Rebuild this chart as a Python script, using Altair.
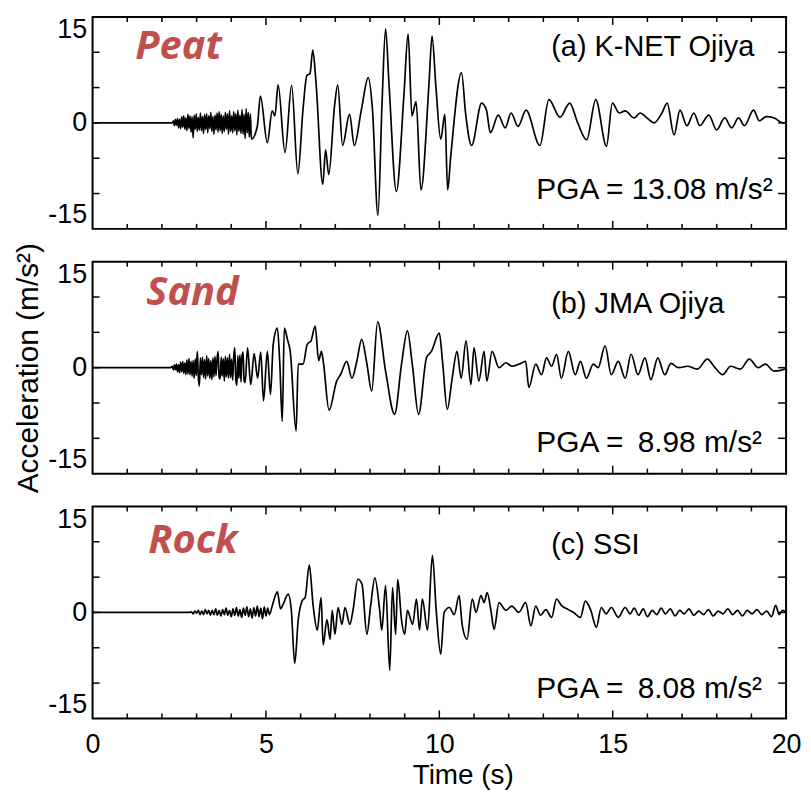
import altair as alt
import pandas as pd

# ---------------- data ----------------
# (a) K-NET Ojiya (Peat)
t_peat = [0, 2.30, 2.33, 2.36, 2.39, 2.42, 2.45, 2.48, 2.51, 2.54, 2.57, 2.60, 2.63, 2.66, 2.69,
          2.72, 2.75, 2.78, 2.81, 2.84, 2.87, 2.90, 2.93, 2.96, 2.99, 3.02, 3.05, 3.08, 3.11,
          3.14, 3.17, 3.20, 3.23, 3.26, 3.29, 3.32, 3.35, 3.38, 3.41, 3.44, 3.47, 3.50, 3.53,
          3.56, 3.59, 3.62, 3.65, 3.68, 3.71, 3.74, 3.77, 3.80, 3.83, 3.86, 3.89, 3.92, 3.95,
          3.98, 4.01, 4.04, 4.07, 4.10, 4.13, 4.16, 4.19, 4.22, 4.25, 4.28, 4.31, 4.34, 4.37,
          4.40, 4.43, 4.46, 4.49, 4.52, 4.55, 4.58,
          4.75, 4.84, 5.04, 5.18, 5.26, 5.35, 5.55, 5.74, 5.92, 6.07, 6.18, 6.27, 6.35, 6.44,
          6.64, 6.72, 6.81, 6.98, 7.07, 7.21, 7.41, 7.55, 7.75, 7.95, 8.07, 8.23, 8.35, 8.45,
          8.55, 8.76, 8.98, 9.10, 9.21, 9.33, 9.47, 9.70, 9.79, 9.90, 10.04, 10.16, 10.24,
          10.33, 10.64, 10.76, 10.93, 11.22, 11.36, 11.47, 11.70, 11.90, 12.07, 12.27, 12.50,
          12.90, 13.16, 13.48, 13.76, 13.99, 14.25, 14.51, 14.82, 14.99, 15.19, 15.36, 15.62,
          15.79, 15.99, 16.19, 16.42, 16.57, 16.77, 16.94, 17.14, 17.34, 17.51, 17.77, 18.00,
          18.23, 18.43, 18.63, 18.80, 19.06, 19.23, 19.43, 19.66, 19.91, 20.0]
a_peat = [0, 0, 0.3, -0.4, 0.5, -0.3, 0.6, -0.7, 0.5, -0.8, 0.9, -0.6, 1.0, -0.9, 0.7,
          -1.1, 1.2, -0.8, 1.0, -1.3, 0.9, -2.1, 1.1, -0.9, 1.3, -1.2, 0.8, -1.0, 1.4,
          -1.1, 0.9, -1.5, 1.2, -0.9, 1.3, -1.4, 1.0, -0.8, 1.5, -1.2, 0.9, -1.6, 1.1,
          -1.0, 1.4, -1.3, 1.6, -1.1, 1.2, -1.5, 1.0, -1.2, 1.5, -0.9, 1.3, -1.6, 1.7,
          -1.2, 1.0, -1.4, 1.6, -1.1, 1.3, -1.7, 1.8, -1.2, 1.1, -1.5, 1.9, -1.6, 1.2,
          -2.2, 2.0, -1.4, 1.5, -2.0, 1.3, -2.3,
          -0.5, 3.8, -2.8, 1.7, 1.0, 5.4, -4.2, 5.3, -7.2, 2.0, 6.7, 7.0, 10.3, 6.0,
          -8.7, -3.8, -7.3, 2.5, 5.4, -3.2, 1.2, -3.2, 1.8, 6.4, 2.0, -13.08, 3.1, 13.3,
          5.4, -9.7, 4.0, 12.6, 1.0, 3.0, -9.5, 5.4, 12.3, 5.2, -2.3, 1.2, -9.5,
          -4.7, 7.1, 1.2, -3.2, 2.8, 1.8, -1.4, 1.1, -0.7, 1.4, -0.5, 1.8,
          -3.2, 3.3, 0.8, 2.8, 0.0, -2.4, 3.3, -3.3, 2.8, 1.4, 1.7, 0.7,
          1.4, 0.7, 0.0, 1.4, 2.8, -1.7, 1.8, -0.4, 1.4, -0.4, 1.1, -1.0,
          0.7, -0.7, 0.7, -0.4, 1.8, 0.3, 0.9, 0.7, 0.0, 0.1]

# (b) JMA Ojiya (Sand)
t_sand = [0, 2.25, 2.30, 2.33, 2.36, 2.39, 2.42, 2.45, 2.48, 2.51, 2.54, 2.57, 2.60, 2.63,
          2.66, 2.69, 2.72, 2.75, 2.78, 2.81, 2.84, 2.87, 2.90, 2.93, 2.96, 2.99, 3.02, 3.05,
          3.08, 3.11, 3.14, 3.17, 3.20, 3.23, 3.26, 3.29, 3.32, 3.35, 3.38, 3.41, 3.44, 3.47,
          3.50, 3.53, 3.56, 3.59, 3.62, 3.65, 3.68, 3.71, 3.74, 3.77, 3.80, 3.83, 3.86, 3.89,
          3.92, 3.95, 3.98, 4.01, 4.04, 4.07, 4.10, 4.13, 4.16, 4.19, 4.22, 4.25, 4.28, 4.31,
          4.34, 4.37, 4.40,
          4.47, 4.56, 4.66, 4.76, 4.85, 4.93, 5.04, 5.13, 5.21, 5.33, 5.40, 5.47, 5.53, 5.62,
          5.70, 5.87, 5.93, 6.07, 6.19, 6.30, 6.42, 6.52, 6.60, 6.65, 6.82, 7.04, 7.15, 7.33,
          7.48, 7.62, 7.76, 7.90, 8.05, 8.22, 8.45, 8.71, 8.91, 9.08, 9.22, 9.40, 9.63, 9.77,
          10.00, 10.09, 10.23, 10.37, 10.51, 10.63, 10.77, 10.91, 11.00, 11.14, 11.29, 11.37,
          11.52, 11.72, 11.92, 12.10, 12.30, 12.49, 12.58, 12.78, 12.95, 13.09, 13.24, 13.38,
          13.52, 13.72, 13.92, 14.07, 14.24, 14.44, 14.58, 14.78, 14.96, 15.16, 15.36, 15.53,
          15.73, 15.93, 16.10, 16.30, 16.50, 16.68, 16.90, 17.16, 17.44, 17.73, 17.95, 18.17,
          18.40, 18.68, 18.94, 19.20, 19.40, 19.66, 19.97, 20.0]
a_sand = [0, 0, 0.2, -0.3, 0.4, -0.3, 0.5, -0.6, 0.4, -0.7, 0.8, -0.6, 0.9, -0.8,
          0.7, -1.0, 1.1, -0.9, 1.3, -1.0, 0.9, -1.2, 1.0, -1.5, 1.2, -1.1, 2.3, -1.3,
          -2.6, 1.4, -1.0, 1.5, -1.4, 1.1, -1.6, 1.7, -1.2, 1.3, -1.5, 1.0, -1.7, 1.4,
          -1.3, 1.6, -1.1, 1.2, 2.3, -1.4, -1.6, 1.5, -1.2, 1.3, -1.9, 1.6, -1.3, 1.4,
          -1.5, 1.9, -1.4, 1.2, -1.8, 1.5, 2.8, -1.6, -2.5, 1.7, -1.5, 1.8, -2.0, 1.6,
          2.2, -1.8, -2.1,
          2.8, -2.4, 2.0, -1.5, 2.2, -4.7, 2.3, -3.8, 3.3, 5.6, 0.5, -7.6, 5.6, 4.0,
          2.3, -8.98, 0.5, 0.5, 3.3, 3.8, 5.9, 1.0, 2.3, 1.0, -6.0, -1.9, -1.0, 0.9,
          -1.5, 0.9, 4.0, 0.9, -3.3, 6.5, -0.5, -6.6, 0.5, 5.2, 0.5, -6.6, 1.4, 2.3,
          4.9, 1.0, -5.9, -1.5, 2.3, -1.5, 3.8, -2.4, 2.8, -1.9, 2.3, -1.9,
          2.3, 0.0, 0.7, 0.2, 0.5, 0.9, -2.8, 0.5, -1.0, 1.4, 0.2, 1.9,
          -1.5, 2.3, -1.0, 0.9, -1.5, 0.5, 0.0, 3.1, -1.0, 0.9, -1.5, 1.9,
          -1.0, 1.4, -1.7, 1.4, -1.0, 0.6, 0.0, 0.2, -0.2, 1.2, 0.0, -1.0,
          0.2, -0.2, 1.2, 0.0, 0.5, -0.5, -0.2, -0.1]

# (c) SSI (Rock)
t_rock = [0, 2.80, 2.85, 2.90, 2.95, 3.00, 3.05, 3.10, 3.15, 3.20, 3.25, 3.30, 3.35, 3.40,
          3.45, 3.50, 3.55, 3.60, 3.65, 3.70, 3.75, 3.80, 3.85, 3.90, 3.95, 4.00, 4.05, 4.10,
          4.15, 4.20, 4.25, 4.30, 4.35, 4.40, 4.45, 4.50, 4.55, 4.60, 4.65, 4.70, 4.75, 4.80,
          4.85, 4.90, 4.95, 5.00, 5.05, 5.10,
          5.19, 5.33, 5.42, 5.50, 5.64, 5.73, 5.83, 5.93, 6.05, 6.13, 6.25, 6.36, 6.48, 6.59,
          6.65, 6.76, 6.85, 6.91, 6.99, 7.08, 7.19, 7.28, 7.42, 7.51, 7.65, 7.77, 7.91, 8.02,
          8.14, 8.28, 8.34, 8.45, 8.57, 8.65, 8.74, 8.80, 8.91, 9.00, 9.08, 9.23, 9.34, 9.43,
          9.51, 9.66, 9.80, 9.91, 10.04, 10.14, 10.29, 10.43, 10.57, 10.66, 10.80, 10.95,
          11.06, 11.20, 11.29, 11.38, 11.49, 11.58, 11.72, 11.92, 12.09, 12.29, 12.49, 12.64,
          12.78, 12.92, 13.07, 13.24, 13.38, 13.52, 13.72, 13.87, 14.07, 14.21, 14.36, 14.53,
          14.67, 14.81, 14.96, 15.16, 15.36, 15.50, 15.62, 15.75, 15.88, 16.00, 16.14, 16.27,
          16.40, 16.52, 16.66, 16.80, 16.93, 17.06, 17.20, 17.34, 17.48, 17.62, 17.76, 17.90,
          18.04, 18.18, 18.32, 18.46, 18.60, 18.74, 18.88, 19.02, 19.16, 19.30, 19.44, 19.58,
          19.70, 19.80, 19.90, 20.0]
a_rock = [0, 0, 0.1, -0.2, 0.2, -0.1, 0.3, -0.3, 0.2, -0.3, 0.4, -0.2, 0.3, -0.4,
          0.3, -0.3, 0.5, -0.4, 0.3, -0.5, 0.4, -0.3, 0.6, -0.4, 0.3, -0.6, 0.5, -0.4,
          0.7, -0.5, 0.4, -0.7, 0.6, -0.4, 0.8, -0.6, 0.5, -0.8, 0.7, -0.5, 0.9, -0.6,
          0.6, -0.9, 0.8, -0.5, 0.6, -0.3,
          1.1, 2.9, 0.5, 1.2, 2.6, 0.4, -7.2, -1.1, 1.7, 2.1, 6.7, 1.0, -2.5, 2.1,
          -4.6, -1.0, -3.8, 0.3, -3.1, 0.7, -1.7, 0.7, -1.7, 0.3, 4.7, 4.0, -3.1, 1.0,
          4.9, 0.3, -2.5, 3.8, -8.2, 3.5, -3.1, 4.7, -1.1, -3.1, 0.3, -1.7, 1.9, -2.5,
          1.9, -2.5, 8.08, 0.3, -5.9, 0.0, 0.7, -0.3, 2.4, -1.8, -3.8, 1.9,
          0.0, 2.4, 1.4, 2.8, 0.2, -2.4, 1.4, 0.3, 0.9, 0.0, 1.4, -1.9,
          0.9, -0.4, 0.4, -0.7, 1.9, 1.0, 0.4, 0.0, -0.7, 1.6, 0.4, -2.1,
          0.7, -0.2, 0.7, -0.7, 0.7, -0.2, 0.6, -0.4, 0.5, -0.6, 0.3, -0.3,
          0.6, -0.2, 0.5, -0.5, 0.3, -0.2, 0.5, -0.4, 0.2, -0.3, 0.4, -0.5,
          0.2, -0.2, 0.5, -0.3, 0.3, -0.5, 0.3, -0.2, 0.4, -0.3, 0.2, -0.6,
          1.0, -0.3, 0.3, 0.0]

soil_names = ["Peat", "Sand", "Rock"]
station_labels = ["(a) K-NET Ojiya", "(b) JMA Ojiya", "(c) SSI"]
pga_labels = ["PGA = 13.08 m/s\u00b2", "PGA = \u20098.98 m/s\u00b2", "PGA = \u20098.08 m/s\u00b2"]

x_label_values = [0, 5, 10, 15, 20]
y_label_values = [-15, 0, 15]
x_minor_ticks = [1, 2, 3, 4, 6, 7, 8, 9, 11, 12, 13, 14, 16, 17, 18, 19]
x_major_ticks = [5, 10, 15]
y_ticks = [-10, -5, 0, 5, 10]

# ---------------- layout ----------------
W, H = 697, 213
FONT = "Liberation Sans"
RED = "#C0504D"

xscale = alt.Scale(domain=[0, 20], nice=False, zero=False)
yscale = alt.Scale(domain=[-15, 15], nice=False)

# per-panel text positions (pixels inside the plot area)
station_y = [39, 52, 48]
pga_y = [183, 191, 192]
soil_pos = [(43, 42), (54, 44), (56, 47)]


def panel(i, t, a, show_x=False, y_title=None):
    df = pd.DataFrame({"t": t, "a": a})
    if show_x:
        xaxis = alt.Axis(values=x_label_values, title="Time (s)", labelFlush=False,
                         labelPadding=13, titlePadding=4, labelOverlap=False,
                         titleFontSize=28, titleX=372, titleAlign="center")
    else:
        xaxis = None
    yaxis = alt.Axis(values=y_label_values, title=y_title if y_title else "",
                     labelFlush=True, labelPadding=6, titlePadding=4, labelOverlap=False,
                     labelExpr="'' + datum.value")

    X = alt.X("t:Q", scale=xscale, axis=xaxis)
    Yl = alt.Y("a:Q", scale=yscale, axis=yaxis)

    line = alt.Chart(df).mark_line(color="black", strokeWidth=1.7,
                                   interpolate="monotone").encode(x=X, y=Yl)

    minor = pd.DataFrame({"t": x_minor_ticks})
    major = pd.DataFrame({"t": x_major_ticks})
    yt = pd.DataFrame({"a": y_ticks})
    rule = dict(color="black", strokeWidth=1.5)
    ticks = [
        alt.Chart(minor).mark_rule(**rule).encode(x=X, y=alt.value(0), y2=alt.value(5)),
        alt.Chart(minor).mark_rule(**rule).encode(x=X, y=alt.value(H - 5), y2=alt.value(H)),
        alt.Chart(major).mark_rule(**rule).encode(x=X, y=alt.value(0), y2=alt.value(8)),
        alt.Chart(major).mark_rule(**rule).encode(x=X, y=alt.value(H - 8), y2=alt.value(H)),
        alt.Chart(yt).mark_rule(**rule).encode(y=Yl, x=alt.value(0), x2=alt.value(7)),
        alt.Chart(yt).mark_rule(**rule).encode(y=Yl, x=alt.value(W - 8), x2=alt.value(W)),
    ]

    txt = pd.DataFrame({"soil": [soil_names[i]], "station": [station_labels[i]],
                        "pga": [pga_labels[i]]})
    soil = alt.Chart(txt).mark_text(font="Open Sans", fontSize=40, fontWeight="bold",
                                    fontStyle="italic", color=RED, align="left",
                                    baseline="alphabetic").encode(
        text="soil:N", x=alt.value(soil_pos[i][0]), y=alt.value(soil_pos[i][1]))
    station = alt.Chart(txt).mark_text(font=FONT, fontSize=29, color="black", align="left",
                                       baseline="alphabetic").encode(
        text="station:N", x=alt.value(461), y=alt.value(station_y[i]))
    pga = alt.Chart(txt).mark_text(font=FONT, fontSize=30, color="black", align="left",
                                   baseline="alphabetic").encode(
        text="pga:N", x=alt.value(446), y=alt.value(pga_y[i]))

    return alt.layer(line, *ticks, soil, station, pga).properties(width=W, height=H)


p1 = panel(0, t_peat, a_peat)
p2 = panel(1, t_sand, a_sand, y_title="Acceleration (m/s\u00b2)")
p3 = panel(2, t_rock, a_rock, show_x=True)

chart = alt.vconcat(p1, p2, p3, spacing=33, bounds="flush").properties(
    background="white", padding={"left": 4, "top": 5, "right": 0, "bottom": 5}
).configure_view(
    stroke="black", strokeWidth=2
).configure_axis(
    labelFont=FONT, labelFontSize=27, labelColor="black",
    titleFont=FONT, titleFontSize=30, titleFontWeight="normal", titleColor="black",
    domain=False, ticks=False, grid=False,
)

chart.save("out.html", embed_options={"renderer": "svg", "actions": False})
